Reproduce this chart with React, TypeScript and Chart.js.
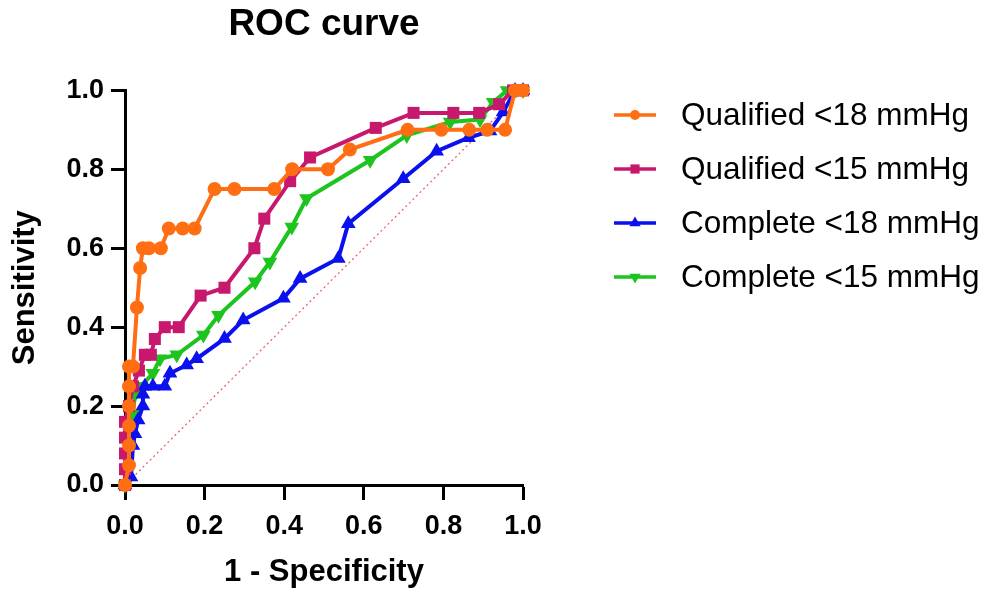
import React, { useEffect, useRef } from "react";
import { Chart, registerables } from "chart.js";

Chart.register(...registerables);

const seriesNames = ["Qualified <18 mmHg", "Qualified <15 mmHg", "Complete <18 mmHg", "Complete <15 mmHg"];
const seriesColors = ["#FF6E12", "#C8186E", "#0A10EE", "#1EC41E"];

const q18X = [0, 0.01, 0.01, 0.01, 0.01, 0.01, 0.01, 0.02, 0.03, 0.038, 0.045, 0.06, 0.09, 0.11, 0.145, 0.175, 0.225, 0.275, 0.375, 0.42, 0.51, 0.565, 0.71, 0.795, 0.865, 0.91, 0.955, 0.98, 1.0];
const q18Y = [0, 0.05, 0.1, 0.15, 0.2, 0.25, 0.3, 0.3, 0.45, 0.55, 0.6, 0.6, 0.6, 0.65, 0.65, 0.65, 0.75, 0.75, 0.75, 0.8, 0.8, 0.85, 0.9, 0.9, 0.9, 0.9, 0.9, 1.0, 1.0];

const q15X = [0, 0, 0, 0, 0, 0.01, 0.02, 0.035, 0.05, 0.065, 0.075, 0.1, 0.135, 0.19, 0.25, 0.325, 0.35, 0.415, 0.465, 0.63, 0.725, 0.825, 0.89, 0.94, 0.975, 1.0];
const q15Y = [0, 0.04, 0.08, 0.12, 0.16, 0.2, 0.25, 0.29, 0.33, 0.33, 0.37, 0.4, 0.4, 0.48, 0.5, 0.6, 0.675, 0.77, 0.83, 0.905, 0.943, 0.943, 0.943, 0.965, 1.0, 1.0];

const c18X = [0, 0.015, 0.02, 0.025, 0.033, 0.045, 0.045, 0.05, 0.07, 0.1, 0.113, 0.155, 0.18, 0.25, 0.297, 0.398, 0.44, 0.536, 0.561, 0.699, 0.783, 0.863, 0.917, 0.95, 0.98, 1.0];
const c18Y = [0, 0.02, 0.1, 0.13, 0.165, 0.2, 0.23, 0.25, 0.25, 0.25, 0.283, 0.304, 0.32, 0.371, 0.418, 0.473, 0.523, 0.574, 0.662, 0.776, 0.846, 0.88, 0.897, 0.945, 1.0, 1.0];

const c15X = [0, 0.01, 0.02, 0.025, 0.04, 0.07, 0.088, 0.13, 0.197, 0.235, 0.327, 0.364, 0.419, 0.456, 0.616, 0.708, 0.817, 0.892, 0.925, 0.96, 1.0];
const c15Y = [0, 0.1, 0.18, 0.23, 0.25, 0.283, 0.32, 0.33, 0.38, 0.43, 0.515, 0.565, 0.654, 0.726, 0.823, 0.886, 0.92, 0.926, 0.97, 1.0, 1.0];

const diagX = [0, 1];
const diagY = [0, 1];

const tickValues = [0, 0.2, 0.4, 0.6, 0.8, 1.0];

const FONT = "'Liberation Sans', Arial, Helvetica, sans-serif";

const toPts = (xs: number[], ys: number[]) => xs.map((x, i) => ({ x, y: ys[i] }));

const markerStyles = [
  { style: "circle", radius: 7, rotation: 0 },
  { style: "rect", radius: 8.5, rotation: 0 },
  { style: "triangle", radius: 8.5, rotation: 0 },
  { style: "triangle", radius: 8.5, rotation: 180 },
];

function drawMarker(ctx: CanvasRenderingContext2D, style: string, r: number, rot: number, x: number, y: number, color: string) {
  ctx.save();
  ctx.fillStyle = color;
  ctx.beginPath();
  if (style === "circle") {
    ctx.arc(x, y, r, 0, Math.PI * 2);
  } else if (style === "rect") {
    const s = r * Math.SQRT1_2;
    ctx.rect(x - s, y - s, 2 * s, 2 * s);
  } else {
    ctx.translate(x, y);
    ctx.rotate((rot * Math.PI) / 180);
    ctx.moveTo(0, -r);
    ctx.lineTo(r * Math.cos(Math.PI / 6), r * 0.5);
    ctx.lineTo(-r * Math.cos(Math.PI / 6), r * 0.5);
    ctx.closePath();
  }
  ctx.fill();
  ctx.restore();
}

const legendPlugin = {
  id: "customLegend",
  afterDraw(chart: any) {
    const ctx = chart.ctx;
    const rowsY = [115, 169, 223, 277];
    ctx.save();
    seriesNames.forEach((name, i) => {
      const y = rowsY[i];
      const color = seriesColors[i];
      ctx.strokeStyle = color;
      ctx.lineWidth = 3.5;
      ctx.beginPath();
      ctx.moveTo(614, y);
      ctx.lineTo(656, y);
      ctx.stroke();
      const m = markerStyles[i];
      drawMarker(ctx, m.style, m.radius - 2, m.rotation, 635, y, color);
      ctx.fillStyle = "#000";
      ctx.font = `31.5px ${FONT}`;
      ctx.textBaseline = "middle";
      ctx.textAlign = "left";
      ctx.fillText(name, 681, y + 1);
    });
    ctx.restore();
  },
};

export default function App() {
  const ref = useRef<HTMLCanvasElement | null>(null);
  useEffect(() => {
    if (!ref.current) return;
    const allX = [q18X, q15X, c18X, c15X];
    const allY = [q18Y, q15Y, c18Y, c15Y];
    const datasets: any[] = seriesNames.map((name, i) => ({
      label: name,
      data: toPts(allX[i], allY[i]),
      borderColor: seriesColors[i],
      backgroundColor: seriesColors[i],
      pointBackgroundColor: seriesColors[i],
      pointBorderColor: seriesColors[i],
      pointBorderWidth: 0,
      pointStyle: markerStyles[i].style,
      pointRadius: markerStyles[i].radius,
      pointRotation: markerStyles[i].rotation,
      borderWidth: 4,
      tension: 0,
      showLine: true,
      clip: false,
      order: i + 1,
    }));
    datasets.push({
      label: "diagonal",
      data: toPts(diagX, diagY),
      borderColor: "#E06A6A",
      borderWidth: 1.3,
      borderDash: [2, 3],
      pointRadius: 0,
      showLine: true,
      clip: false,
      order: 10,
    });
    const tickFont = { family: FONT, size: 27, weight: "bold" as const };
    const titleFont = { family: FONT, size: 31, weight: "bold" as const };
    const chart = new Chart(ref.current, {
      type: "line",
      data: { datasets },
      plugins: [legendPlugin],
      options: {
        animation: false,
        responsive: false,
        devicePixelRatio: 1,
        layout: { padding: { left: 0, right: 480, top: 0, bottom: 0 } },
        plugins: {
          legend: { display: false },
          tooltip: { enabled: false },
          title: {
            display: true,
            text: "ROC curve",
            fullSize: false,
            color: "#000",
            font: { family: FONT, size: 37, weight: "bold" },
            padding: { top: 3, bottom: 43 },
          },
        },
        scales: {
          x: {
            type: "linear",
            min: 0,
            max: 1,
            afterBuildTicks: (s: any) => { s.ticks = tickValues.map((v) => ({ value: v })); },
            afterFit: (s: any) => { s.height = 111; },
            ticks: {
              color: "#000",
              font: tickFont,
              padding: 10,
              maxRotation: 0,
              callback: (v: any) => Number(v).toFixed(1),
            },
            grid: { display: true, drawOnChartArea: false, drawTicks: true, tickLength: 15, tickWidth: 3, tickColor: "#000" },
            border: { display: true, color: "#000", width: 3 },
            title: { display: true, text: "1 - Specificity", color: "#000", font: titleFont, padding: { top: 0, bottom: 5 } },
          },
          y: {
            type: "linear",
            min: 0,
            max: 1,
            afterBuildTicks: (s: any) => { s.ticks = tickValues.map((v) => ({ value: v })); },
            afterFit: (s: any) => { s.width = 125; },
            ticks: {
              color: "#000",
              font: tickFont,
              padding: 7,
              callback: (v: any) => Number(v).toFixed(1),
            },
            grid: { display: true, drawOnChartArea: false, drawTicks: true, tickLength: 14, tickWidth: 3, tickColor: "#000" },
            border: { display: true, color: "#000", width: 3 },
            title: { display: true, text: "Sensitivity", color: "#000", font: titleFont, padding: { top: 7, bottom: 0 } },
          },
        },
      } as any,
    });
    return () => chart.destroy();
  }, []);
  return (
    <div style={{ position: "fixed", left: 0, top: 0, width: 1003, height: 596, background: "#fff" }}>
      <canvas ref={ref} width={1003} height={596} />
    </div>
  );
}
